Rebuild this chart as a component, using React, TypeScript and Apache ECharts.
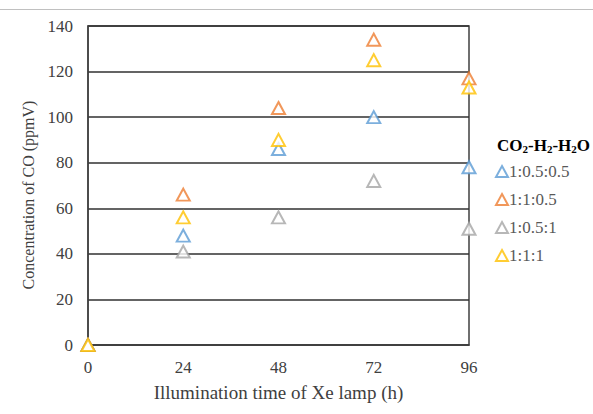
import React, { useEffect, useRef } from "react";
import * as echarts from "echarts";

const hours = [0, 24, 48, 72, 96];
const seriesNames = ["1:0.5:0.5", "1:1:0.5", "1:0.5:1", "1:1:1"];
const blueValues = [0, 48, 86, 100, 78];
const orangeValues = [0, 66, 104, 134, 117];
const grayValues = [0, 41, 56, 72, 51];
const yellowValues = [0, 56, 90, 125, 113];
const colors = ["#5B9BD5", "#ED7D31", "#A5A5A5", "#FFC000"];

const allValues = [blueValues, orangeValues, grayValues, yellowValues];
const serif = "'Liberation Serif', 'Times New Roman', serif";

export default function App() {
  const ref = useRef<HTMLDivElement>(null);
  useEffect(() => {
    document.body.style.margin = "0";
    const chart = echarts.init(ref.current!, undefined, { renderer: "svg" });
    chart.setOption({
      animation: false,
      backgroundColor: "#ffffff",
      title: {
        left: 492,
        top: 131,
        text: "CO{s|2}-H{s|2}-H{s|2}O",
        textStyle: {
          fontFamily: serif,
          fontSize: 17,
          fontWeight: "bold",
          color: "#000",
          rich: {
            s: { fontFamily: serif, fontSize: 11, fontWeight: "bold", color: "#000", verticalAlign: "bottom", padding: [7, 0, 0, 0] },
          },
        },
      },
      legend: {
        orient: "vertical",
        left: 490,
        top: 158,
        itemWidth: 12,
        itemHeight: 11,
        itemGap: 11,
        data: seriesNames,
        itemStyle: { borderWidth: 1.3 },
        textStyle: { fontFamily: serif, fontSize: 17, color: "#595959", padding: [0, 0, 0, -4] },
      },
      graphic: [
        {
          type: "line",
          shape: { x1: 0, y1: 9.5, x2: 593, y2: 9.5 },
          style: { stroke: "#c0c0c0", lineWidth: 1 },
        },
        {
          type: "text",
          x: 28,
          y: 195,
          rotation: Math.PI / 2,
          style: {
            text: "Concentration of CO (ppmV)",
            fontFamily: serif,
            fontSize: 16,
            fill: "#404040",
            align: "center",
            verticalAlign: "middle",
          },
        },
      ],
      grid: {
        left: 88,
        right: 124,
        top: 26,
        bottom: 69,
        show: true,
        borderColor: "#404040",
        borderWidth: 1.5,
      },
      xAxis: {
        type: "value",
        min: 0,
        max: 96,
        interval: 24,
        name: "Illumination time of Xe lamp (h)",
        nameLocation: "middle",
        nameGap: 38,
        nameTextStyle: { fontFamily: serif, fontSize: 19, color: "#404040" },
        axisLine: { show: true, lineStyle: { color: "#404040", width: 1.5 } },
        axisTick: { show: false },
        splitLine: { show: false },
        axisLabel: { fontFamily: serif, fontSize: 17, color: "#404040", margin: 14 },
      },
      yAxis: {
        type: "value",
        min: 0,
        max: 140,
        interval: 20,
        axisLine: { show: true, lineStyle: { color: "#404040", width: 1.5 } },
        axisTick: { show: false },
        splitLine: { show: true, lineStyle: { color: "#303030", width: 1.5 } },
        axisLabel: { fontFamily: serif, fontSize: 17, color: "#404040", margin: 15 },
      },
      series: seriesNames.map((name, i) => ({
        name,
        type: "scatter",
        clip: false,
        symbol: "emptyTriangle",
        symbolSize: [13, 12],
        itemStyle: { color: colors[i], borderColor: colors[i], borderWidth: 2 },
        data: hours.map((h, j) => [h, allValues[i][j]]),
      })),
    });
    return () => chart.dispose();
  }, []);
  return <div ref={ref} style={{ width: 593, height: 414 }} />;
}
